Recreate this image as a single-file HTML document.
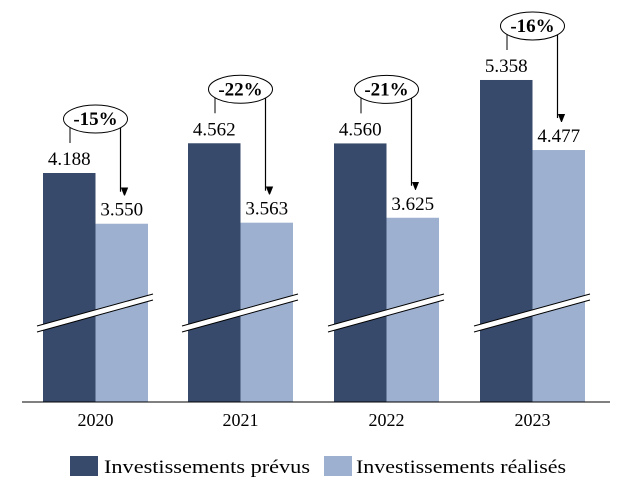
<!DOCTYPE html>
<html><head><meta charset="utf-8"><style>
body{margin:0;background:#fff}
svg text{font-family:"Liberation Serif",serif;fill:#000}
</style></head><body>
<svg id="chart" width="638" height="495" xmlns="http://www.w3.org/2000/svg">
<defs><marker id="ah" markerWidth="8" markerHeight="10" refX="4" refY="9" orient="auto" markerUnits="userSpaceOnUse"><path d="M0,0 L8,0 L4,10 Z" fill="#000" transform="rotate(-90 4 5)"/></marker></defs>
<g id="bars"></g>
<line x1="22" y1="402" x2="610" y2="402" stroke="#000" stroke-width="1"/>
<g>
<rect x="70" y="456" width="28" height="20" fill="#374a6b"/>
<text x="104" y="473" font-size="19" textLength="206" lengthAdjust="spacingAndGlyphs">Investissements prévus</text>
<rect x="324" y="456" width="28" height="20" fill="#9db0cf"/>
<text x="356" y="473" font-size="19" textLength="210" lengthAdjust="spacingAndGlyphs">Investissements réalisés</text>
</g>
</svg>
<script>
const years=["2020","2021","2022","2023"];
const prevus=[4188,4562,4560,5358];
const realises=[3550,3563,3625,4477];
const pctLabels=["-15%","-22%","-21%","-16%"];
const NS="http://www.w3.org/2000/svg";
const g=document.getElementById('bars');
function y(v){return 173-(v-4188)*0.0795;}
function fmt(v){return (v/1000).toFixed(3);}
const groupX=[43,188,334,480];
function mk(t,a){const e=document.createElementNS(NS,t);for(const k in a)e.setAttribute(k,a[k]);g.appendChild(e);return e;}
years.forEach((yr,i)=>{
  const x0=groupX[i],w=52.5,base=402;
  const d=mk('rect',{x:x0,y:y(prevus[i]),width:w,height:base-y(prevus[i]),fill:'#374a6b'});
  
  
  const l=mk('rect',{x:x0+w,y:y(realises[i]),width:w,height:base-y(realises[i]),fill:'#9db0cf'});
  
  
  const bx1=x0-6,bx2=x0+2*w+5,by1=329,by2=297;
  const br=mk('polygon',{points:`${bx1},${by1-3} ${bx2},${by2-3} ${bx2},${by2+3} ${bx1},${by1+3}`,fill:'#fff'});
  
  
  [-3,3].forEach(o=>{const ln=mk('line',{x1:bx1,y1:by1+o,x2:bx2,y2:by2+o,stroke:'#000','stroke-width':1});
    
    });
  const t1=mk('text',{x:x0+w/2,y:y(prevus[i])-8,'text-anchor':'middle','font-size':'19'});t1.textContent=fmt(prevus[i]);
  
  
  const t2=mk('text',{x:x0+w*1.5,y:y(realises[i])-8,'text-anchor':'middle','font-size':'19'});t2.textContent=fmt(realises[i]);
  
  
  const xl=mk('text',{x:x0+w,y:426,'text-anchor':'middle','font-size':'18'});xl.textContent=yr;
  
  
  const ty=y(prevus[i])-30, cy=ty-24, cx=x0+w;
  const lx=x0+27, rx=x0+w+25;
  const ln1=mk('line',{x1:lx,y1:cy+8,x2:lx,y2:ty,stroke:'#000','stroke-width':1});
  
  
  const ar=mk('line',{x1:rx,y1:cy+8,x2:rx,y2:y(realises[i])-32,stroke:'#000','stroke-width':1.2,'marker-end':'url(#ah)'});
  
  
  const el=mk('ellipse',{cx:cx,cy:cy,rx:32,ry:14,fill:'#fff',stroke:'#000','stroke-width':1});
  
  
  const pt=mk('text',{x:cx,y:cy+6,'text-anchor':'middle','font-size':'19','font-weight':'bold'});pt.textContent=pctLabels[i];
  
  
});
</script>
</body></html>
